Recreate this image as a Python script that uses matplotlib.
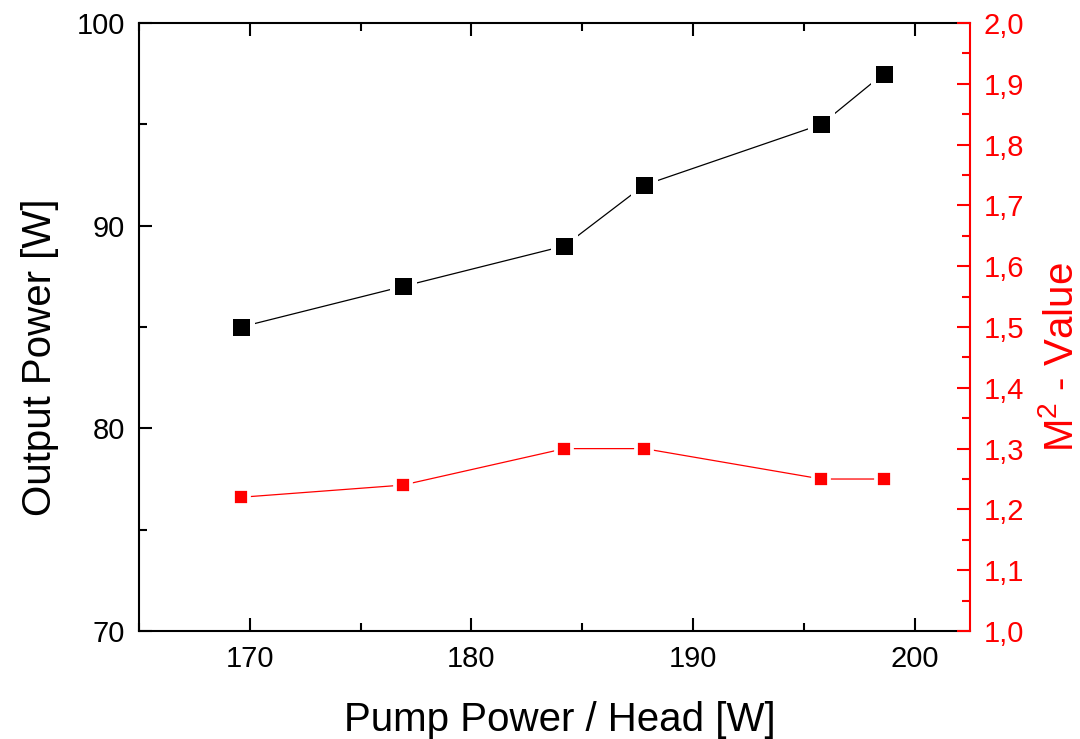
import matplotlib.pyplot as plt
from matplotlib.ticker import MultipleLocator, FuncFormatter

plt.rcParams['font.family'] = ['Liberation Sans', 'DejaVu Sans']
plt.rcParams['mathtext.fontset'] = 'custom'
plt.rcParams['mathtext.rm'] = 'Liberation Sans'

# pump power per head [W]
pump_power = [169.6, 176.9, 184.2, 187.8, 195.8, 198.6]
# output power [W]
output_power = [85.0, 87.0, 89.0, 92.0, 95.0, 97.5]
# beam quality M^2
m2_value = [1.22, 1.24, 1.30, 1.30, 1.25, 1.25]

fig = plt.figure(figsize=(10.8, 7.39), dpi=100)
ax = fig.add_axes([0.1287, 0.1461, 0.7694, 0.8228])
ax2 = ax.twinx()

# black series: output power (white marker edge gives the gap in the line)
ax.plot(pump_power, output_power, color='black', linewidth=0.9,
        marker='s', markersize=16.5, markerfacecolor='black',
        markeredgecolor='white', markeredgewidth=3.6, zorder=3)

# red series: M^2
ax2.plot(pump_power, m2_value, color='red', linewidth=0.9,
         marker='s', markersize=11.3, markerfacecolor='red',
         markeredgecolor='white', markeredgewidth=2.7, zorder=3)

ax.set_xlim(165, 202.5)
ax.set_ylim(70, 100)
ax2.set_ylim(1.0, 2.0)

ax.xaxis.set_major_locator(MultipleLocator(10))
ax.xaxis.set_minor_locator(MultipleLocator(5))
ax.yaxis.set_major_locator(MultipleLocator(10))
ax.yaxis.set_minor_locator(MultipleLocator(5))
ax2.yaxis.set_major_locator(MultipleLocator(0.1))
ax2.yaxis.set_minor_locator(MultipleLocator(0.05))
ax2.yaxis.set_major_formatter(FuncFormatter(lambda v, p: f"{v:.1f}".replace('.', ',')))

for s in ax.spines.values():
    s.set_linewidth(1.5)
ax.spines['right'].set_visible(False)
for name in ['left', 'top', 'bottom']:
    ax2.spines[name].set_visible(False)
ax2.spines['right'].set_color('red')
ax2.spines['right'].set_linewidth(1.5)

ax.tick_params(which='both', direction='in', top=True, right=False,
               labelsize=21, pad=10, width=1.5)
ax.tick_params(which='major', length=9.5)
ax.tick_params(which='minor', length=5.5)
ax2.tick_params(which='both', direction='in', colors='red',
                labelsize=21, pad=10, width=1.5)
ax2.tick_params(which='major', length=9.5)
ax2.tick_params(which='minor', length=5.5)

ax.set_xlabel('Pump Power / Head [W]', fontsize=29, labelpad=20)
ax.set_ylabel('Output Power [W]', fontsize=29, labelpad=12.5)
ax2.set_ylabel('M$^{2}$ - Value', fontsize=29, color='red', labelpad=13)
# labels sit a little off-centre in the original
ax.xaxis.label.set_x(0.507)
ax.yaxis.label.set_y(0.45)
ax2.yaxis.label.set_y(0.45)

fig.savefig('out.png', dpi=100)
